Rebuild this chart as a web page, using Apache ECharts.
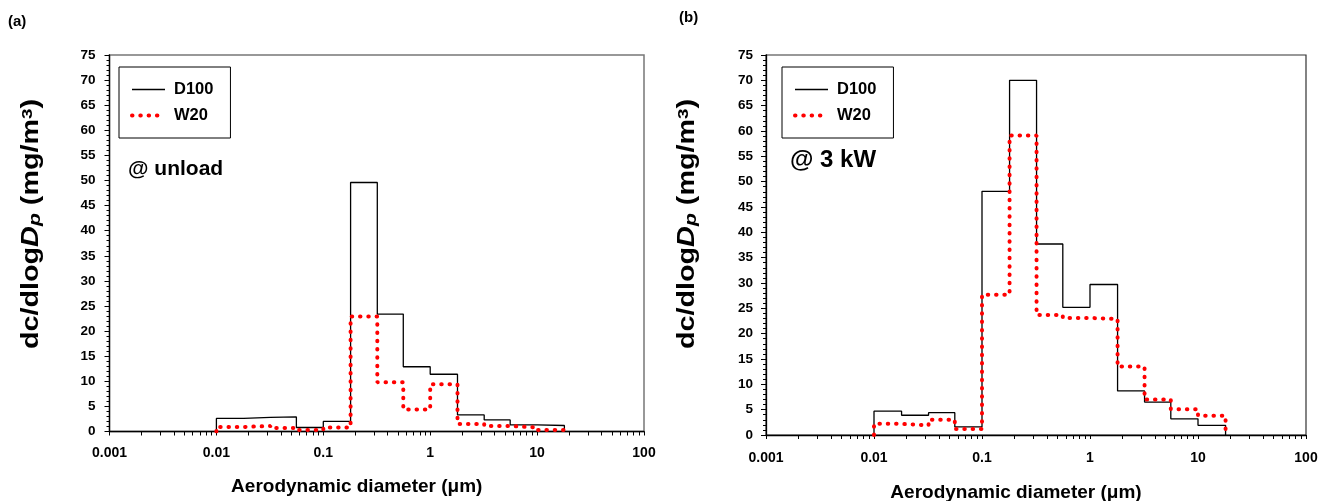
<!DOCTYPE html>
<html>
<head>
<meta charset="utf-8">
<script src="https://cdn.jsdelivr.net/npm/echarts@6/dist/echarts.min.js"></script>
<style>
html, body { margin: 0; padding: 0; background: #fff; }
#chart { width: 1319px; height: 501px; }
</style>
</head>
<body>
<div id="chart"></div>
<script>
// impactor stage edges (um), same for both panels
var binEdges = [0.01, 0.018, 0.032, 0.056, 0.1, 0.18, 0.32, 0.56, 1, 1.8, 3.2, 5.6, 10, 18];

// (a) @ unload
var unloadD100 = [2.6, 2.8, 2.9, 0.8, 2.0, 49.6, 23.4, 12.9, 11.4, 3.3, 2.3, 1.3, 1.2];
var unloadW20 = [0.9, 1.1, 0.7, 0.3, 0.8, 22.9, 9.8, 4.4, 9.4, 1.5, 1.1, 0.8, 0.3];

// (b) @ 3 kW
var kw3D100 = [4.7, 3.9, 4.4, 1.6, 48.1, 70.0, 37.7, 25.2, 29.7, 8.7, 6.5, 3.2, 1.9];
var kw3W20 = [2.2, 1.9, 3.0, 1.2, 27.7, 59.1, 23.7, 23.1, 22.9, 13.5, 7.0, 5.1, 3.8];

var xLabels = [0.001, 0.01, 0.1, 1, 10, 100];
var seriesNames = ['D100', 'W20'];

var font = 'Liberation Sans, Arial, sans-serif';

var blackLine = { color: '#000', width: 1.3 };
var redDots = { color: '#ff0000', width: 4, type: [0.5, 7.8], cap: 'round' };

// minor ticks 1..9 in each decade
var xTicks = [];
for (var d = 0; d < xLabels.length - 1; d++) {
    for (var k = 1; k < 10; k++) {
        xTicks.push(+(xLabels[d] * k).toPrecision(3));
    }
}
xTicks.push(100);

// histogram outline: up at first edge, flat over each bin, down at last edge
function outline(vals) {
    var pts = [[binEdges[0], 0]];
    for (var i = 0; i < vals.length; i++) {
        pts.push([binEdges[i], vals[i]]);
        pts.push([binEdges[i + 1], vals[i]]);
    }
    pts.push([binEdges[binEdges.length - 1], 0]);
    return pts;
}

function xAxisFor(idx) {
    return {
        gridIndex: idx,
        type: 'log',
        logBase: 10,
        min: 0.001,
        max: 100,
        axisLine: { lineStyle: { color: '#000', width: 1.3 } },
        axisTick: { customValues: xTicks, length: 4, lineStyle: { color: '#000' } },
        axisLabel: {
            customValues: xLabels,
            margin: idx == 0 ? 15 : 16,
            color: '#000',
            fontSize: 14,
            fontWeight: 'bold',
            fontFamily: font,
            formatter: function (v) { return String(+(+v).toPrecision(3)); }
        },
        splitLine: { show: false },
        name: 'Aerodynamic diameter (μm)',
        nameLocation: 'middle',
        nameGap: idx == 0 ? 46 : 48,
        nameTextStyle: {
            color: '#000', fontSize: 19, fontWeight: 'bold', fontFamily: font,
            padding: [0, 40, 0, 0]
        }
    };
}

function yAxisFor(idx) {
    return {
        gridIndex: idx,
        type: 'value',
        min: 0,
        max: 75,
        interval: 5,
        axisLine: { show: true, lineStyle: { color: '#000', width: 1.3 } },
        axisTick: { show: true, length: 5, lineStyle: { color: '#000' } },
        minorTick: { show: true, splitNumber: 5, length: 3, lineStyle: { color: '#000' } },
        axisLabel: { margin: idx == 0 ? 14 : 13, color: '#000', fontSize: 13.5, fontWeight: 'bold', fontFamily: font },
        splitLine: { show: false }
    };
}

function blackSeries(idx, vals) {
    return {
        name: seriesNames[0], type: 'line', xAxisIndex: idx, yAxisIndex: idx,
        data: outline(vals), symbol: 'none', z: 2,
        lineStyle: blackLine, itemStyle: { color: '#000' }
    };
}

function redSeries(idx, vals) {
    return {
        name: seriesNames[1], type: 'line', xAxisIndex: idx, yAxisIndex: idx,
        data: outline(vals), symbol: 'none', z: 3,
        lineStyle: redDots, itemStyle: { color: '#ff0000' }
    };
}

function legendAt(left) {
    return {
        left: left, top: 67, orient: 'vertical',
        data: [
            { name: seriesNames[0], lineStyle: blackLine },
            { name: seriesNames[1], lineStyle: redDots }
        ],
        selectedMode: false,
        borderColor: '#000', borderWidth: 1,
        padding: [14, 17, 14, 11],
        itemWidth: 33, itemHeight: 14, itemGap: 9,
        itemStyle: { opacity: 0 },
        textStyle: { color: '#000', fontSize: 16.5, fontWeight: 'bold', fontFamily: font, padding: [0, 0, 0, 4] }
    };
}

var yTitle = {
    text: 'dc/dlog{d|D}{p|p} (mg/m{s|3})',
    font: 'bold 23px ' + font,
    fill: '#000',
    align: 'center',
    verticalAlign: 'middle',
    rich: {
        d: { fontSize: 23, fontWeight: 'bold', fontStyle: 'italic', fontFamily: font },
        p: { fontSize: 17, fontWeight: 'bold', fontStyle: 'italic', fontFamily: font, verticalAlign: 'bottom', lineHeight: 20 },
        s: { fontSize: 15, fontWeight: 'bold', fontFamily: font, verticalAlign: 'top', lineHeight: 16 }
    }
};

function textAt(x, y, txt, size) {
    return { type: 'text', x: x, y: y, style: { text: txt, font: 'bold ' + size + 'px ' + font, fill: '#000', verticalAlign: 'middle' } };
}

var chart = echarts.init(document.getElementById('chart'));
chart.setOption({
    animation: false,
    backgroundColor: '#fff',
    grid: [
        { left: 109.5, top: 55, width: 534.5, height: 376.5, outerBoundsMode: 'none', show: true, borderColor: '#777', borderWidth: 1.5 },
        { left: 766, top: 55, width: 540, height: 380, outerBoundsMode: 'none', show: true, borderColor: '#333', borderWidth: 1.2 }
    ],
    xAxis: [xAxisFor(0), xAxisFor(1)],
    yAxis: [yAxisFor(0), yAxisFor(1)],
    legend: [legendAt(119), legendAt(782)],
    series: [
        blackSeries(0, unloadD100),
        redSeries(0, unloadW20),
        blackSeries(1, kw3D100),
        redSeries(1, kw3W20)
    ],
    graphic: [
        textAt(8, 22, '(a)', 15),
        textAt(679, 18, '(b)', 15),
        textAt(128, 169, '@ unload', 21),
        textAt(790, 160, '@ 3 kW', 24),
        // title is stretched along its length in the original figure
        { type: 'text', x: 32, y: 224, rotation: Math.PI / 2, scaleX: 1.25, style: Object.assign({}, yTitle) },
        { type: 'text', x: 688, y: 224, rotation: Math.PI / 2, scaleX: 1.25, style: Object.assign({}, yTitle) }
    ]
});
</script>
</body>
</html>
